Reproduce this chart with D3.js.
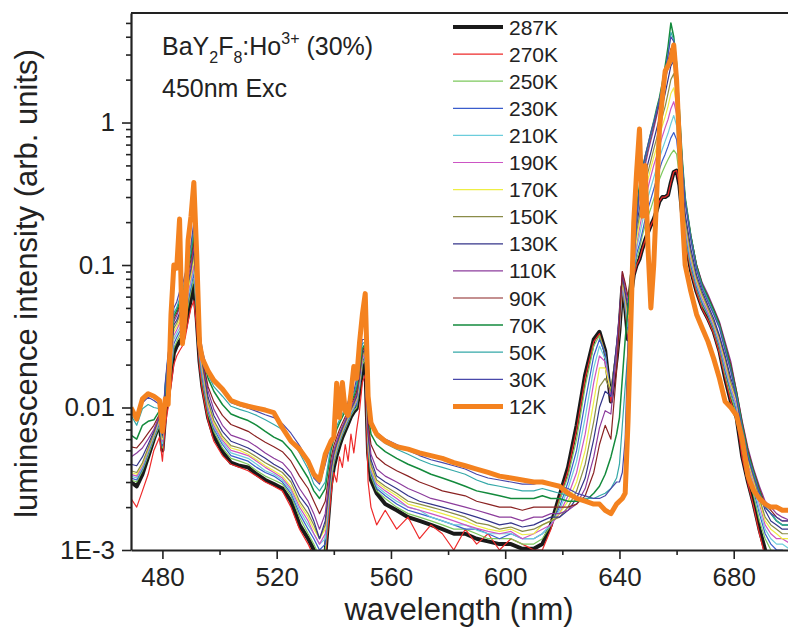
<!DOCTYPE html>
<html>
<head>
<meta charset="utf-8">
<script src="https://cdn.jsdelivr.net/npm/d3@7"></script>
<style>
body { margin: 0; background: #fff; }
svg { font-family: "Liberation Sans", Arial, sans-serif; }
</style>
</head>
<body>
<div id="vis"></div>
<script>
// wavelength grid (nm), shared by every spectrum
var wavelength = [469,471,473,475,477,479,
  480,481,482,483,484,485,486,487,488,489,490,491,492,493,494,
  496,498,501,504,507,510,513,516,519,522,525,528,531,
  533,535,537,539,
  540,541,542,543,544,545,546,547,548,549,550,551,552,553,
  555,558,562,566,570,574,578,582,586,590,594,598,602,606,610,
  613,616,619,622,625,628,631,633,635,637,639,
  640,641,642,643,644,645,646,647,648,649,650,651,652,653,654,655,656,657,658,659,660,661,662,663,
  665,667,669,671,673,675,677,679,681,683,685,687,689,
  691,693,695,697,700];

// intensities (arb. units)
var k287 = [.0030,.0028,.0034,.0045,.0060,.0078,
  .0050,.0090,.012,.017,.024,.027,.029,.031,.036,.046,.058,.072,.042,.021,.014,
  .0085,.0063,.0049,.0041,.0039,.0038,.0034,.0031,.0029,.0027,.0022,.0015,.0012,
  .0010,.0008,.0009,.0029,
  .0038,.0046,.0054,.0062,.0069,.0077,.0086,.0093,.0098,.013,.019,.021,.0048,.0031,
  .0025,.0021,.0019,.0017,.0016,.0015,.0014,.0013,.0013,.0012,.00115,.0011,.0011,.00102,.00102,
  .0011,.0015,.0024,.0038,.0075,.017,.030,.034,.025,.011,.022,
  .035,.07,.05,.03,.06,.085,.10,.11,.13,.15,.17,.19,.21,.24,.28,.30,.30,.31,.38,.45,.46,.36,.22,.15,
  .092,.065,.050,.042,.034,.025,.016,.011,.0085,.0045,.0030,.0021,.0014,
  .0010,.0008,.0007,.0007,.0006];
var k270 = [.0023,.0020,.0026,.0034,.0050,.0062,
  .0042,.0075,.010,.014,.020,.023,.025,.027,.031,.040,.050,.056,.036,.019,.013,
  .0080,.0058,.0046,.0040,.0038,.0036,.0033,.0030,.0028,.0026,.0020,.0014,.0011,
  .0009,.0008,.0009,.0024,
  .0035,.0030,.0045,.0038,.0055,.0042,.0065,.0048,.0070,.0095,.015,.017,.0030,.0020,
  .0015,.0019,.0014,.0017,.0012,.0015,.0013,.0010,.0014,.0011,.0013,.0010,.0012,.0011,.0010,
  .0010,.0014,.0023,.0036,.0070,.016,.029,.033,.024,.011,.021,
  .034,.068,.05,.03,.058,.083,.10,.11,.13,.15,.17,.19,.21,.24,.28,.30,.30,.31,.38,.45,.46,.36,.22,.15,
  .09,.064,.049,.041,.033,.024,.016,.011,.0083,.0044,.0029,.0020,.0013,
  .0009,.0008,.0007,.0007,.0006];
var k250 = [.0031,.0030,.0036,.0046,.0060,.0075,
  .0052,.0095,.013,.018,.026,.029,.032,.034,.040,.052,.066,.080,.046,.022,.015,
  .0090,.0068,.0052,.0044,.0042,.0040,.0036,.0033,.0031,.0029,.0024,.0017,.0013,
  .0011,.0009,.0010,.0030,
  .0040,.0048,.0056,.0064,.0071,.0079,.0088,.0095,.0100,.0135,.020,.022,.0050,.0033,
  .0026,.0023,.0020,.0018,.0017,.0016,.0015,.0014,.0014,.0013,.0012,.0012,.0012,.0011,.0011,
  .0012,.0015,.0022,.0033,.0060,.014,.027,.032,.024,.012,.022,
  .035,.07,.05,.033,.06,.088,.11,.13,.16,.19,.22,.25,.29,.34,.40,.45,.50,.55,.60,.64,.60,.42,.25,.16,
  .095,.068,.052,.044,.035,.026,.017,.012,.0090,.0050,.0033,.0024,.0016,
  .0012,.0010,.0009,.0009,.0008];
var k230 = [.0032,.0031,.0037,.0048,.0062,.0078,
  .0054,.010,.014,.019,.028,.031,.034,.036,.043,.056,.070,.088,.050,.023,.016,
  .0095,.0071,.0055,.0046,.0044,.0042,.0038,.0035,.0033,.0030,.0025,.0018,.0014,
  .0012,.0010,.0011,.0031,
  .0042,.0050,.0058,.0066,.0073,.0081,.0090,.0098,.0105,.014,.021,.023,.0053,.0035,
  .0027,.0024,.0021,.0019,.0018,.0017,.0016,.0015,.0014,.0014,.0013,.0012,.0013,.0012,.0012,
  .0013,.0015,.0020,.0030,.0050,.011,.023,.030,.024,.012,.023,
  .036,.072,.052,.035,.062,.09,.12,.14,.17,.21,.25,.29,.34,.40,.47,.54,.60,.68,.78,.85,.76,.48,.28,.17,
  .10,.070,.054,.045,.036,.027,.018,.013,.0095,.0055,.0036,.0026,.0018,
  .0013,.0011,.0010,.0010,.0009];
var k210 = [.0033,.0032,.0038,.0049,.0063,.0080,
  .0056,.0105,.015,.020,.030,.033,.036,.039,.046,.060,.075,.095,.054,.024,.017,
  .0098,.0073,.0057,.0048,.0046,.0044,.0040,.0036,.0034,.0031,.0026,.0019,.0015,
  .0013,.0011,.0012,.0032,
  .0043,.0051,.0059,.0067,.0075,.0083,.0092,.010,.011,.0145,.022,.024,.0056,.0036,
  .0028,.0025,.0022,.0020,.0019,.0017,.0016,.0015,.0015,.00138,.0013,.0013,.0013,.0012,.0012,
  .0013,.0015,.0019,.0027,.0042,.0085,.019,.027,.022,.012,.024,
  .037,.074,.055,.037,.065,.095,.13,.16,.20,.25,.30,.35,.41,.48,.56,.65,.74,.84,.98,1.12,.95,.55,.31,.18,
  .105,.073,.056,.046,.037,.028,.019,.0135,.010,.0058,.0038,.0028,.0019,
  .0014,.0012,.0011,.0011,.0010];
var k190 = [.0034,.0033,.0039,.0050,.0064,.0082,
  .0058,.011,.016,.021,.032,.035,.039,.042,.050,.064,.080,.10,.057,.025,.018,
  .010,.0075,.0059,.0050,.0048,.0046,.0042,.0038,.0035,.0032,.0027,.0020,.0016,
  .0013,.0011,.0013,.0033,
  .0044,.0052,.0060,.0068,.0076,.0085,.0094,.0102,.0112,.015,.022,.025,.0058,.0037,
  .0029,.0026,.0023,.0020,.0019,.0018,.0017,.0016,.0015,.00142,.00135,.0013,.00135,.0012,.0013,
  .0014,.0015,.0018,.0024,.0035,.0065,.015,.023,.021,.012,.025,
  .038,.076,.057,.04,.068,.10,.14,.18,.23,.29,.35,.42,.50,.58,.68,.80,.92,1.05,1.25,1.40,1.15,.62,.33,.19,
  .11,.076,.058,.047,.038,.029,.020,.014,.0105,.0062,.0040,.0030,.0021,
  .0015,.0013,.0012,.0012,.0011];
var k170 = [.0035,.0034,.0040,.0051,.0065,.0084,
  .0060,.0115,.017,.022,.034,.037,.041,.045,.053,.068,.085,.11,.060,.026,.019,
  .0105,.0078,.0061,.0052,.0050,.0047,.0043,.0039,.0036,.0033,.0028,.0021,.0017,
  .0014,.0012,.0014,.0034,
  .0045,.0053,.0061,.0069,.0077,.0086,.0095,.0104,.0115,.0155,.023,.025,.0060,.0038,
  .0030,.0027,.0024,.0021,.0020,.0019,.0018,.0017,.0016,.00148,.0014,.00135,.0014,.00128,.0013,
  .0015,.0016,.0018,.0022,.0030,.0050,.011,.019,.019,.013,.026,
  .04,.078,.06,.042,.07,.11,.15,.20,.26,.33,.40,.48,.57,.67,.80,.95,1.1,1.3,1.6,1.75,1.35,.70,.35,.20,
  .115,.078,.060,.049,.039,.030,.021,.0145,.011,.0065,.0042,.0031,.0022,
  .0016,.0014,.0013,.0012,.0012];
var k150 = [.0036,.0035,.0041,.0052,.0066,.0085,
  .0062,.012,.018,.023,.036,.039,.044,.048,.056,.072,.090,.12,.064,.027,.020,
  .011,.0081,.0063,.0054,.0052,.0049,.0045,.0041,.0038,.0035,.0030,.0022,.0018,
  .0015,.0012,.0015,.0035,
  .0046,.0054,.0062,.0070,.0078,.0087,.0096,.0105,.0118,.016,.023,.026,.0062,.0040,
  .0031,.0028,.0025,.0022,.0021,.0020,.0019,.0018,.0017,.00155,.0015,.0014,.00145,.00135,.0014,
  .0015,.0016,.0017,.0020,.0026,.0040,.0080,.014,.016,.013,.027,
  .042,.08,.062,.045,.075,.12,.17,.22,.29,.37,.45,.54,.65,.77,.92,1.1,1.3,1.6,2.0,2.2,1.6,.80,.38,.21,
  .12,.081,.062,.050,.040,.031,.022,.015,.0115,.0068,.0044,.0032,.0023,
  .0017,.0015,.0014,.0013,.0013];
var k130 = [.0040,.0039,.0045,.0055,.0068,.0087,
  .0064,.0125,.019,.024,.038,.041,.046,.050,.060,.076,.095,.13,.068,.028,.021,
  .0118,.0088,.0068,.0058,.0055,.0052,.0048,.0044,.0040,.0037,.0032,.0024,.0020,
  .0016,.0012,.0016,.0037,
  .0048,.0056,.0064,.0072,.0080,.0089,.0098,.0108,.012,.0165,.024,.026,.0066,.0043,
  .0033,.0030,.0027,.0024,.0022,.0021,.0020,.0019,.0018,.0017,.0016,.0015,.00155,.00145,.0015,
  .0016,.0017,.0017,.0019,.0023,.0032,.0060,.010,.013,.012,.028,
  .045,.085,.065,.05,.08,.13,.19,.25,.33,.42,.52,.62,.75,.90,1.08,1.3,1.6,2.0,2.5,2.7,1.9,.90,.42,.23,
  .13,.085,.065,.052,.042,.032,.023,.016,.012,.0072,.0047,.0034,.0025,
  .0019,.0016,.0015,.0014,.0014];
var k110 = [.0045,.0048,.0052,.0060,.0070,.0088,
  .0066,.013,.020,.025,.040,.044,.050,.055,.065,.082,.10,.14,.072,.029,.022,
  .013,.0097,.0075,.0064,.0061,.0058,.0053,.0048,.0044,.0041,.0035,.0027,.0022,
  .0018,.0014,.0018,.0040,
  .0050,.0058,.0066,.0074,.0082,.0091,.010,.011,.0125,.017,.025,.027,.0072,.0047,
  .0037,.0033,.0030,.0027,.0025,.0023,.0022,.0021,.0020,.0019,.0018,.0017,.0017,.0016,.0017,
  .0017,.0018,.0018,.0019,.0021,.0027,.0045,.0072,.0095,.0090,.025,
  .045,.09,.07,.055,.085,.14,.22,.30,.40,.50,.62,.75,.90,1.1,1.35,1.65,2.0,2.4,2.9,3.0,2.2,1.0,.50,.28,
  .16,.10,.075,.062,.050,.040,.029,.021,.013,.0080,.0052,.0037,.0028,
  .0022,.0020,.0018,.0017,.0016];
var k90 = [.0053,.0052,.0058,.0066,.0075,.0090,
  .0068,.0135,.021,.026,.042,.046,.052,.058,.070,.088,.11,.15,.075,.030,.022,
  .0140,.0110,.0088,.0076,.0072,.0068,.0062,.0057,.0053,.0049,.0042,.0033,.0027,
  .0022,.0018,.0022,.0044,
  .0054,.0062,.0070,.0078,.0086,.0095,.0105,.0115,.013,.0175,.025,.027,.0080,.0055,
  .0045,.0040,.0036,.0033,.0030,.0028,.0026,.0025,.0024,.0022,.0021,.0020,.0020,.0019,.0020,
  .0020,.0020,.0020,.0020,.0021,.0024,.0035,.0055,.0075,.0060,.018,
  .040,.09,.075,.06,.09,.15,.24,.33,.43,.54,.66,.80,.96,1.15,1.4,1.75,2.2,2.7,3.3,3.3,2.4,1.1,.52,.29,
  .16,.10,.073,.060,.049,.039,.028,.020,.013,.0078,.0050,.0036,.0027,
  .0021,.0019,.0017,.0016,.0016];
var k70 = [.0064,.0060,.0075,.0080,.0082,.0095,
  .0070,.014,.022,.027,.044,.048,.055,.062,.075,.095,.12,.17,.080,.032,.023,
  .0160,.0130,.0105,.0090,.0085,.0081,.0075,.0068,.0062,.0058,.0050,.0040,.0032,
  .0026,.0023,.0027,.0050,
  .0060,.0070,.0078,.0086,.0094,.0102,.011,.012,.014,.019,.026,.028,.0092,.0065,
  .0055,.0049,.0044,.0040,.0037,.0034,.0032,.0030,.0028,.0026,.0025,.0024,.0023,.0023,.0023,
  .0024,.0023,.0023,.0022,.0022,.0022,.0025,.0028,.0034,.0045,.0065,
  .0085,.016,.030,.05,.09,.16,.26,.36,.47,.58,.70,.85,1.02,1.25,1.5,1.9,2.5,3.4,5.0,4.0,2.6,1.2,.55,.30,
  .16,.098,.072,.059,.048,.038,.027,.019,.0125,.0075,.0048,.0035,.0026,
  .0020,.0018,.0016,.0015,.0015];
var k50 = [.0088,.0075,.0098,.0105,.0100,.0098,
  .0072,.0145,.023,.028,.046,.050,.058,.066,.080,.10,.13,.18,.085,.034,.024,
  .0170,.0140,.0120,.0102,.0097,.0093,.0088,.0082,.0076,.0070,.0060,.0048,.0037,
  .0029,.0026,.0030,.0054,
  .0064,.0074,.0082,.0090,.0098,.0106,.0114,.0125,.0145,.020,.028,.029,.0105,.0075,
  .0062,.0056,.0051,.0047,.0043,.0040,.0038,.0036,.0034,.0031,.0029,.0028,.0027,.0026,.0026,
  .0027,.0026,.0025,.0024,.0023,.0023,.0023,.0024,.0025,.0027,.0032,
  .0040,.0075,.014,.025,.05,.10,.20,.32,.44,.56,.68,.82,1.0,1.2,1.45,1.8,2.3,3.0,4.3,3.8,2.5,1.15,.52,.29,
  .155,.095,.070,.057,.046,.037,.026,.018,.012,.0072,.0046,.0034,.0025,
  .0020,.0018,.0016,.0015,.0015];
var k30 = [.0095,.0085,.0108,.0118,.0112,.0105,
  .0074,.015,.024,.030,.050,.055,.065,.072,.088,.11,.14,.20,.09,.035,.025,
  .0175,.0150,.0130,.0108,.0103,.0099,.0094,.0089,.0085,.0077,.0066,.0054,.0042,
  .0032,.0029,.0040,.0057,
  .0066,.010,.0085,.0105,.0092,.011,.012,.013,.016,.022,.030,.030,.0115,.0083,
  .0067,.0060,.0055,.0050,.0046,.0043,.0041,.0039,.0037,.0034,.0032,.0031,.0030,.0029,.0029,
  .0030,.0029,.0028,.0027,.0025,.0024,.0023,.0023,.0024,.0027,.0030,
  .0030,.0035,.006,.030,.06,.10,.20,.34,.46,.58,.70,.85,1.0,1.2,1.45,1.8,2.3,3.0,4.0,3.7,2.4,1.1,.50,.28,
  .15,.092,.068,.055,.045,.036,.025,.018,.0115,.0070,.0045,.0033,.0025,
  .0020,.0018,.0017,.0016,.0016];
var k12 = [.0100,.0083,.0115,.0125,.0120,.0112,
  .0068,.0115,.0105,.045,.10,.095,.21,.028,.045,.15,.22,.38,.12,.028,.022,
  .0180,.0155,.0135,.0112,.0106,.0102,.0099,.0096,.0092,.0072,.0058,.0051,.0042,
  .0034,.0031,.0047,.0058,
  .0062,.0148,.0085,.0150,.0095,.0088,.0126,.0194,.0160,.0285,.045,.063,.012,.0078,
  .0065,.0058,.0053,.0051,.0048,.0046,.0044,.0041,.0039,.0037,.0035,.0033,.0032,.0031,.0030,
  .0030,.0029,.0028,.0025,.0023,.0022,.0021,.0021,.0019,.0018,.0021,
  .0022,.0023,.0025,.008,.04,.20,.45,.90,.22,.50,.13,.05,.10,.30,.90,1.5,2.3,2.5,2.8,3.5,2.0,.70,.22,.10,
  .065,.045,.036,.029,.022,.016,.011,.0100,.0088,.0060,.0033,.0026,.0023,
  .0021,.0020,.0020,.0019,.0019];

var labels = ["287K","270K","250K","230K","210K","190K","170K","150K","130K","110K","90K","70K","50K","30K","12K"];
var spectra = [k287,k270,k250,k230,k210,k190,k170,k150,k130,k110,k90,k70,k50,k30,k12];

var yMajor = [0.001, 0.01, 0.1, 1];
var yMajorLabels = ["1E-3", "0.01", "0.1", "1"];
var yMinor = [.002,.003,.004,.005,.006,.007,.008,.009,.02,.03,.04,.05,.06,.07,.08,.09,.2,.3,.4,.5,.6,.7,.8,.9,2,3,4,5];
var xMajor = [480, 520, 560, 600, 640, 680];
var xMinor = [500, 540, 580, 620, 660, 700];

// styles
var colors = ["#1a1a1a","#ee2a2a","#7cc85c","#3a5ccc","#6ccddc","#cc55c4","#eeee44","#8a8c48",
              "#34348a","#8c3c9c","#8a2222","#138a3c","#34a8a8","#4848aa","#f4821f"];
var widths = [4, 1.2,1.2,1.2,1.2,1.2,1.2,1.2,1.2,1.2,1.2,1.5,1.2,1.2, 5];

var w = 788, h = 639;
var padL = 131, padR = 788, padT = 13, padB = 550;

var svg = d3.select("#vis").append("svg")
  .attr("width", w).attr("height", h);

var x = d3.scaleLinear().domain([469, 699]).range([padL, padR]);
var y = d3.scaleLog().domain([0.001, 5.87]).range([padB, padT]);

svg.append("clipPath").attr("id", "plotclip")
  .append("rect").attr("x", padL).attr("y", padT)
  .attr("width", padR - padL).attr("height", padB - padT);

var line = d3.line()
  .x((d, i) => x(wavelength[i]))
  .y(d => y(Math.max(d, 0.0003)));

var plot = svg.append("g").attr("clip-path", "url(#plotclip)");
plot.selectAll("path")
  .data(spectra)
  .enter()
  .append("path")
  .attr("d", d => line(d))
  .attr("fill", "none")
  .attr("stroke", (d, i) => colors[i])
  .attr("stroke-width", (d, i) => widths[i])
  .attr("stroke-linejoin", "round");

// axes
var ink = "#222";
var yAxisMinor = svg.append("g")
  .attr("transform", `translate(${padL},0)`)
  .call(d3.axisLeft(y).tickValues(yMinor).tickSize(5).tickFormat(""));
var yAxis = svg.append("g")
  .attr("transform", `translate(${padL},0)`)
  .call(d3.axisLeft(y).tickValues(yMajor).tickSize(9).tickSizeOuter(0).tickPadding(7)
        .tickFormat((d, i) => yMajorLabels[i]));
var xAxisMinor = svg.append("g")
  .attr("transform", `translate(0,${padB})`)
  .call(d3.axisBottom(x).tickValues(xMinor).tickSize(5).tickFormat(""));
var xAxis = svg.append("g")
  .attr("transform", `translate(0,${padB})`)
  .call(d3.axisBottom(x).tickValues(xMajor).tickSize(9).tickSizeOuter(0).tickPadding(9));

[yAxisMinor, yAxis, xAxisMinor, xAxis].forEach(function (g) {
  g.selectAll("line").attr("stroke", ink).attr("stroke-width", 1.6);
  g.select(".domain").attr("stroke", ink).attr("stroke-width", 2.2);
  g.selectAll("text").attr("fill", ink).style("font-size", "26px")
    .style("font-family", "'Liberation Sans', Arial, sans-serif");
});
yAxisMinor.select(".domain").remove();
xAxisMinor.select(".domain").remove();

svg.append("line")
  .attr("x1", padL).attr("x2", padR).attr("y1", padT).attr("y2", padT)
  .attr("stroke", ink).attr("stroke-width", 2.2);

// axis titles
svg.append("text")
  .attr("transform", `translate(37,${(padT + padB) / 2 + 2}) rotate(-90)`)
  .attr("text-anchor", "middle")
  .attr("fill", ink)
  .style("font-size", "31px")
  .text("luminescence intensity (arb. units)");

svg.append("text")
  .attr("x", 459).attr("y", 620)
  .attr("text-anchor", "middle")
  .attr("fill", ink)
  .style("font-size", "31px")
  .text("wavelength (nm)");

// sample annotation
var note = svg.append("text").attr("x", 162).attr("y", 55)
  .attr("fill", ink).style("font-size", "25px");
note.append("tspan").text("BaY");
note.append("tspan").attr("dy", 8).style("font-size", "16px").text("2");
note.append("tspan").attr("dy", -8).text("F");
note.append("tspan").attr("dy", 8).style("font-size", "16px").text("8");
note.append("tspan").attr("dy", -8).text(":Ho");
note.append("tspan").attr("dy", -11).style("font-size", "16px").text("3+");
note.append("tspan").attr("dy", 11).text(" (30%)");

svg.append("text").attr("x", 162).attr("y", 97)
  .attr("fill", ink).style("font-size", "25px")
  .text("450nm Exc");

// legend
var legend = svg.append("g");
var entry = legend.selectAll("g")
  .data(labels)
  .enter()
  .append("g")
  .attr("transform", (d, i) => `translate(0,${27 + i * 27.1})`);
entry.append("line")
  .attr("x1", 453).attr("x2", 503)
  .attr("stroke", (d, i) => colors[i])
  .attr("stroke-width", (d, i) => widths[i]);
entry.append("text")
  .attr("x", 509).attr("dy", "0.36em")
  .attr("fill", ink)
  .style("font-size", "21px")
  .text(d => d);
</script>
</body>
</html>
